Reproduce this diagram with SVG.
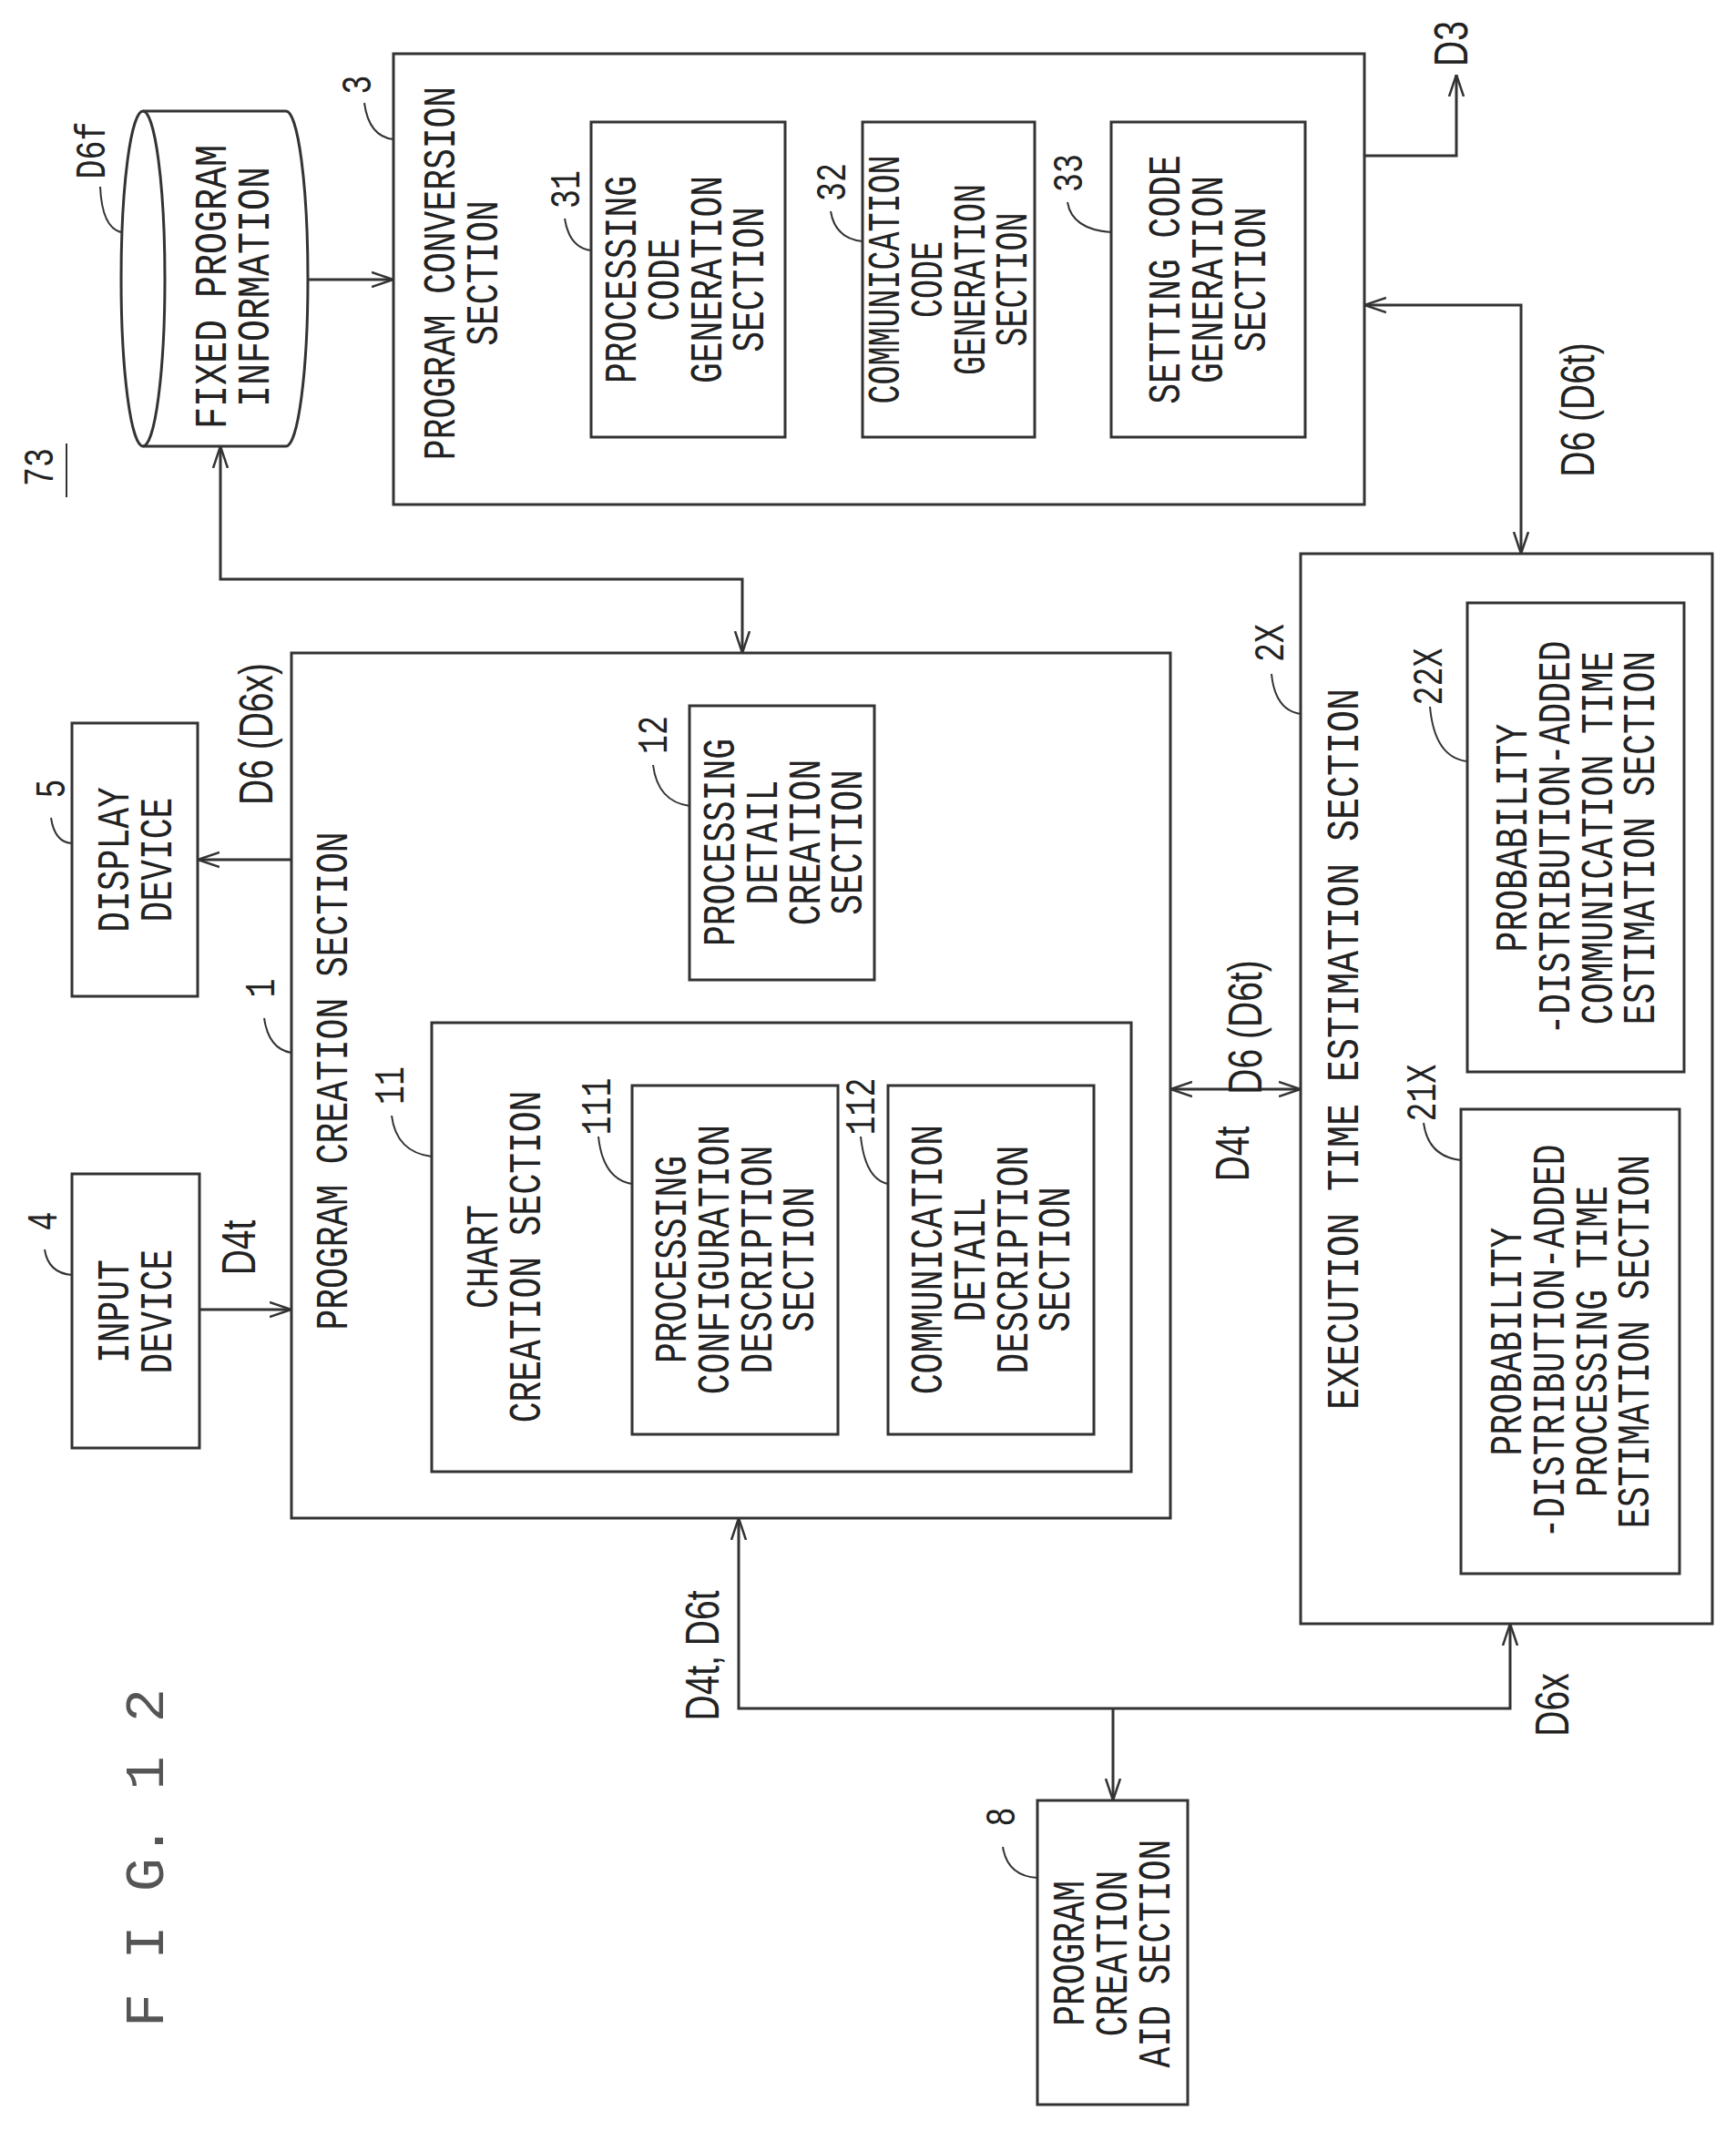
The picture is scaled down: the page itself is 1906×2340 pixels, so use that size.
<svg xmlns="http://www.w3.org/2000/svg" width="1906" height="2340" viewBox="0 0 1906 2340">
<style>
.b{fill:none;stroke:#333;stroke-width:3}
.c{fill:none;stroke:#333;stroke-width:3}
.l{fill:none;stroke:#333;stroke-width:2}
text{font-family:"Liberation Mono","DejaVu Sans Mono",monospace;fill:#222;text-anchor:middle}
.t{font-size:50px}
.n{font-size:46px}
.d{font-size:52px;font-family:"Liberation Sans","DejaVu Sans",sans-serif}
.f{font-size:62px;fill:#555}
</style>
<defs>
<marker id="a" viewBox="0 0 24 20" refX="24" refY="10" markerWidth="24" markerHeight="20" markerUnits="userSpaceOnUse" orient="auto-start-reverse">
<path d="M0,2 L24,10 L0,18" fill="none" stroke="#333" stroke-width="2.5"/>
</marker>
</defs>
<rect width="1906" height="2340" fill="#fff"/>

<g id="connectors">
<path class="c" d="M338,307 H432" marker-end="url(#a)"/>
<path class="c" d="M242,490 V636 H815 V717" marker-start="url(#a)" marker-end="url(#a)"/>
<path class="c" d="M320,944 H217" marker-end="url(#a)"/>
<path class="c" d="M219,1438 H320" marker-end="url(#a)"/>
<path class="c" d="M1285,1196 H1428" marker-start="url(#a)" marker-end="url(#a)"/>
<path class="c" d="M1498,335 H1670 V608" marker-start="url(#a)" marker-end="url(#a)"/>
<path class="c" d="M1498,171 H1599 V82" marker-end="url(#a)"/>
<path class="c" d="M811,1667 V1876 H1658 V1783" marker-start="url(#a)" marker-end="url(#a)"/>
<path class="c" d="M1222,1876 V1977" marker-end="url(#a)"/>
<text class="d" transform="translate(1592,48) rotate(-90) scale(0.75,1)" y="19">D3</text>
<text class="d" transform="translate(1731,450) rotate(-90) scale(0.75,1)" y="19">D6 (D6t)</text>
<text class="d" transform="translate(280,806) rotate(-90) scale(0.75,1)" y="19">D6 (D6x)</text>
<text class="d" transform="translate(261,1370) rotate(-90) scale(0.75,1)" y="19">D4t</text>
<text class="d" transform="translate(1366,1128) rotate(-90) scale(0.75,1)" y="19">D6 (D6t)</text>
<text class="d" transform="translate(1352,1267) rotate(-90) scale(0.75,1)" y="19">D4t</text>
<text class="d" transform="translate(770,1818) rotate(-90) scale(0.75,1)" y="19">D4t, D6t</text>
<text class="d" transform="translate(1703,1872) rotate(-90) scale(0.75,1)" y="19">D6x</text>
</g>

<g id="fig">
<text class="f" transform="translate(157,2040) rotate(-90)" y="22">F I G. 1 2</text>
<text class="n" transform="translate(43,513) rotate(-90) scale(0.76,1)" y="15">73</text>
<line class="l" x1="73" y1="487" x2="73" y2="546"/>
</g>

<g id="n_d6f">
<path class="b" d="M157,122 H314 A24,184 0 0 1 314,490 H157"/>
<ellipse class="b" cx="157" cy="306" rx="24" ry="184"/>
<text class="t" transform="translate(255,315) rotate(-90) scale(0.8,1)"><tspan x="0" y="-7.5">FIXED PROGRAM</tspan><tspan x="0" dy="47">INFORMATION</tspan></text>
<text class="n" transform="translate(100,165) rotate(-90) scale(0.76,1)" y="15">D6f</text>
<path class="l" d="M110,205 Q112,250 133,255"/>
</g>

<g id="n3">
<rect class="b" x="432" y="59" width="1066" height="495"/>
<text class="t" transform="translate(506,300) rotate(-90) scale(0.76,1)"><tspan x="0" y="-7.5">PROGRAM CONVERSION</tspan><tspan x="0" dy="47">SECTION</tspan></text>
<text class="n" transform="translate(392,93) rotate(-90) scale(0.76,1)" y="15">3</text>
<path class="l" d="M400,113 Q405,150 432,153"/>
</g>
<g id="n31">
<rect class="b" x="649" y="134" width="213" height="346"/>
<text class="t" transform="translate(752,307) rotate(-90) scale(0.76,1)"><tspan x="0" y="-54.5">PROCESSING</tspan><tspan x="0" dy="47">CODE</tspan><tspan x="0" dy="47">GENERATION</tspan><tspan x="0" dy="47">SECTION</tspan></text>
<text class="n" transform="translate(621,208) rotate(-90) scale(0.76,1)" y="15">31</text>
<path class="l" d="M620,240 Q625,272 649,275"/>
</g>
<g id="n32">
<rect class="b" x="947" y="134" width="189" height="346"/>
<text class="t" transform="translate(1041,307) rotate(-90) scale(0.7,1)"><tspan x="0" y="-54.5">COMMUNICATION</tspan><tspan x="0" dy="47">CODE</tspan><tspan x="0" dy="47">GENERATION</tspan><tspan x="0" dy="47">SECTION</tspan></text>
<text class="n" transform="translate(913,200) rotate(-90) scale(0.76,1)" y="15">32</text>
<path class="l" d="M912,232 Q917,262 947,265"/>
</g>
<g id="n33">
<rect class="b" x="1220" y="134" width="213" height="346"/>
<text class="t" transform="translate(1326,307) rotate(-90) scale(0.76,1)"><tspan x="0" y="-31">SETTING CODE</tspan><tspan x="0" dy="47">GENERATION</tspan><tspan x="0" dy="47">SECTION</tspan></text>
<text class="n" transform="translate(1173,190) rotate(-90) scale(0.76,1)" y="15">33</text>
<path class="l" d="M1172,222 Q1177,252 1220,255"/>
</g>

<g id="n1">
<rect class="b" x="320" y="717" width="965" height="950"/>
<text class="t" transform="translate(365,1187) rotate(-90) scale(0.76,1)" y="16">PROGRAM CREATION SECTION</text>
<text class="n" transform="translate(286,1085) rotate(-90) scale(0.76,1)" y="15">1</text>
<path class="l" d="M290,1118 Q295,1152 320,1156"/>
</g>
<g id="n12">
<rect class="b" x="757" y="775" width="203" height="301"/>
<text class="t" transform="translate(860,925) rotate(-90) scale(0.76,1)"><tspan x="0" y="-54.5">PROCESSING</tspan><tspan x="0" dy="47">DETAIL</tspan><tspan x="0" dy="47">CREATION</tspan><tspan x="0" dy="47">SECTION</tspan></text>
<text class="n" transform="translate(717,807) rotate(-90) scale(0.76,1)" y="15">12</text>
<path class="l" d="M717,840 Q722,880 757,885"/>
</g>
<g id="n11">
<rect class="b" x="474" y="1123" width="768" height="493"/>
<text class="t" transform="translate(553,1380) rotate(-90) scale(0.76,1)"><tspan x="0" y="-7.5">CHART</tspan><tspan x="0" dy="47">CREATION SECTION</tspan></text>
<text class="n" transform="translate(428,1192) rotate(-90) scale(0.76,1)" y="15">11</text>
<path class="l" d="M430,1225 Q435,1265 474,1270"/>
</g>
<g id="n111">
<rect class="b" x="694" y="1192" width="226" height="383"/>
<text class="t" transform="translate(807,1383) rotate(-90) scale(0.76,1)"><tspan x="0" y="-54.5">PROCESSING</tspan><tspan x="0" dy="47">CONFIGURATION</tspan><tspan x="0" dy="47">DESCRIPTION</tspan><tspan x="0" dy="47">SECTION</tspan></text>
<text class="n" transform="translate(655,1215) rotate(-90) scale(0.76,1)" y="15">111</text>
<path class="l" d="M657,1248 Q662,1295 694,1300"/>
</g>
<g id="n112">
<rect class="b" x="975" y="1192" width="226" height="383"/>
<text class="t" transform="translate(1088,1383) rotate(-90) scale(0.76,1)"><tspan x="0" y="-54.5">COMMUNICATION</tspan><tspan x="0" dy="47">DETAIL</tspan><tspan x="0" dy="47">DESCRIPTION</tspan><tspan x="0" dy="47">SECTION</tspan></text>
<text class="n" transform="translate(945,1215) rotate(-90) scale(0.76,1)" y="15">112</text>
<path class="l" d="M945,1248 Q950,1295 975,1300"/>
</g>

<g id="n2X">
<rect class="b" x="1428" y="608" width="452" height="1175"/>
<text class="t" transform="translate(1475,1152) rotate(-90) scale(0.8,1)" y="16">EXECUTION TIME ESTIMATION SECTION</text>
<text class="n" transform="translate(1394,706) rotate(-90) scale(0.76,1)" y="15">2X</text>
<path class="l" d="M1396,740 Q1400,780 1428,784"/>
</g>
<g id="n22X">
<rect class="b" x="1611" y="662" width="238" height="515"/>
<text class="t" transform="translate(1730,920) rotate(-90) scale(0.76,1)"><tspan x="0" y="-54.5">PROBABILITY</tspan><tspan x="0" dy="47">-DISTRIBUTION-ADDED</tspan><tspan x="0" dy="47">COMMUNICATION TIME</tspan><tspan x="0" dy="47">ESTIMATION SECTION</tspan></text>
<text class="n" transform="translate(1568,743) rotate(-90) scale(0.76,1)" y="15">22X</text>
<path class="l" d="M1570,776 Q1575,832 1611,836"/>
</g>
<g id="n21X">
<rect class="b" x="1604" y="1218" width="240" height="510"/>
<text class="t" transform="translate(1724,1473) rotate(-90) scale(0.76,1)"><tspan x="0" y="-54.5">PROBABILITY</tspan><tspan x="0" dy="47">-DISTRIBUTION-ADDED</tspan><tspan x="0" dy="47">PROCESSING TIME</tspan><tspan x="0" dy="47">ESTIMATION SECTION</tspan></text>
<text class="n" transform="translate(1561,1200) rotate(-90) scale(0.76,1)" y="15">21X</text>
<path class="l" d="M1563,1233 Q1568,1270 1604,1274"/>
</g>

<g id="n4">
<rect class="b" x="79" y="1289" width="140" height="301"/>
<text class="t" transform="translate(148,1440) rotate(-90) scale(0.76,1)"><tspan x="0" y="-7.5">INPUT</tspan><tspan x="0" dy="47">DEVICE</tspan></text>
<text class="n" transform="translate(47,1341) rotate(-90) scale(0.76,1)" y="15">4</text>
<path class="l" d="M49,1372 Q53,1398 79,1400"/>
</g>
<g id="n5">
<rect class="b" x="79" y="794" width="138" height="300"/>
<text class="t" transform="translate(148,944) rotate(-90) scale(0.76,1)"><tspan x="0" y="-7.5">DISPLAY</tspan><tspan x="0" dy="47">DEVICE</tspan></text>
<text class="n" transform="translate(56,866) rotate(-90) scale(0.76,1)" y="15">5</text>
<path class="l" d="M56,898 Q60,925 79,926"/>
</g>
<g id="n8">
<rect class="b" x="1139" y="1977" width="165" height="334"/>
<text class="t" transform="translate(1221,2145) rotate(-90) scale(0.76,1)"><tspan x="0" y="-31">PROGRAM</tspan><tspan x="0" dy="47">CREATION</tspan><tspan x="0" dy="47">AID SECTION</tspan></text>
<text class="n" transform="translate(1099,1995) rotate(-90) scale(0.76,1)" y="15">8</text>
<path class="l" d="M1101,2028 Q1106,2060 1139,2062"/>
</g>
</svg>
